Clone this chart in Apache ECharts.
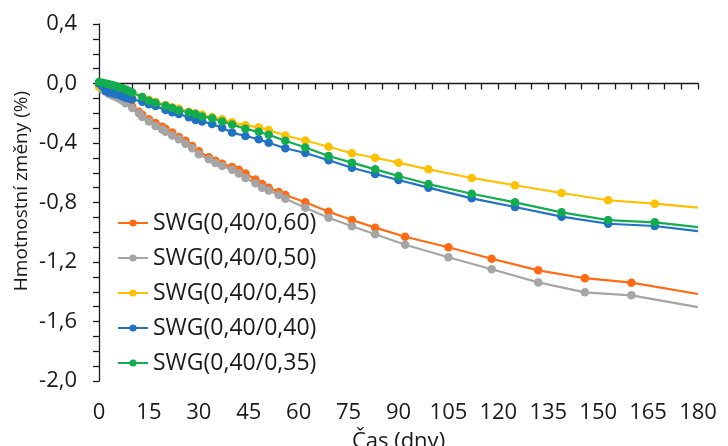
<!DOCTYPE html>
<html>
<head>
<meta charset="utf-8">
<script src="https://cdn.jsdelivr.net/npm/echarts@6/dist/echarts.min.js"></script>
<style>
  html, body { margin: 0; padding: 0; background: #fff; }
  #chart { width: 728px; height: 446px; }
</style>
</head>
<body>
<div id="chart"></div>
<script>
// Test days (mixes 0,40/0,60 and 0,40/0,50)
const daysA = [0, 1, 2, 3, 4, 5, 6, 7, 8, 10, 12, 13, 15, 17, 19, 20, 22, 24, 26, 28, 30, 33, 35, 37, 40, 42, 44, 47, 49, 51, 54, 56, 62, 69, 76, 83, 92, 105, 118, 132, 146, 160, 180];
// Test days (mixes 0,40/0,45, 0,40/0,40 and 0,40/0,35)
const daysB = [0, 1, 2, 3, 4, 5, 6, 7, 8, 9, 10, 13, 15, 17, 20, 22, 24, 27, 29, 31, 34, 37, 40, 44, 48, 51, 56, 62, 69, 76, 83, 90, 99, 112, 125, 139, 153, 167, 180];

// Mass change (%)
const swg060 = [-0.01, -0.03, -0.045, -0.06, -0.07, -0.08, -0.09, -0.105, -0.12, -0.155, -0.19, -0.21, -0.24, -0.265, -0.29, -0.305, -0.33, -0.36, -0.385, -0.42, -0.455, -0.495, -0.52, -0.54, -0.562, -0.58, -0.605, -0.645, -0.675, -0.70, -0.73, -0.75, -0.798, -0.862, -0.918, -0.969, -1.03, -1.101, -1.178, -1.256, -1.309, -1.339, -1.415];
const swg050 = [-0.02, -0.04, -0.055, -0.07, -0.08, -0.09, -0.10, -0.115, -0.133, -0.165, -0.20, -0.225, -0.255, -0.285, -0.31, -0.324, -0.35, -0.375, -0.405, -0.435, -0.475, -0.51, -0.535, -0.555, -0.58, -0.605, -0.635, -0.67, -0.70, -0.72, -0.75, -0.775, -0.835, -0.902, -0.96, -1.014, -1.084, -1.168, -1.249, -1.337, -1.404, -1.424, -1.503];
const swg045 = [-0.02, -0.025, -0.03, -0.035, -0.04, -0.045, -0.05, -0.055, -0.06, -0.065, -0.07, -0.09, -0.11, -0.125, -0.145, -0.16, -0.17, -0.19, -0.20, -0.21, -0.225, -0.241, -0.261, -0.28, -0.295, -0.313, -0.35, -0.383, -0.425, -0.469, -0.499, -0.532, -0.577, -0.635, -0.684, -0.736, -0.785, -0.808, -0.835];
const swg040 = [0.0, -0.02, -0.05, -0.06, -0.065, -0.07, -0.075, -0.085, -0.095, -0.10, -0.106, -0.122, -0.139, -0.151, -0.178, -0.193, -0.205, -0.227, -0.245, -0.255, -0.272, -0.297, -0.33, -0.353, -0.375, -0.398, -0.435, -0.467, -0.516, -0.566, -0.608, -0.649, -0.70, -0.772, -0.83, -0.895, -0.943, -0.958, -0.992];
const swg035 = [0.01, 0.005, 0.0, -0.005, -0.01, -0.017, -0.025, -0.032, -0.04, -0.05, -0.06, -0.09, -0.116, -0.129, -0.15, -0.165, -0.18, -0.195, -0.205, -0.222, -0.234, -0.255, -0.275, -0.305, -0.325, -0.345, -0.385, -0.43, -0.487, -0.532, -0.577, -0.622, -0.676, -0.741, -0.799, -0.866, -0.918, -0.933, -0.965];

const seriesNames = ['SWG(0,40/0,60)', 'SWG(0,40/0,50)', 'SWG(0,40/0,45)', 'SWG(0,40/0,40)', 'SWG(0,40/0,35)'];
const seriesColors = ['#FF6A13', '#A5A5A5', '#FFC000', '#1F72C4', '#12AD4E'];

const xTicks = [0, 15, 30, 45, 60, 75, 90, 105, 120, 135, 150, 165, 180];
const yTicks = [-2.0, -1.6, -1.2, -0.8, -0.4, 0.0, 0.4];

const fontFamily = '"Open Sans", "DejaVu Sans", sans-serif';

function pairs(days, vals) {
  return days.map((d, i) => {
    const item = { value: [d, vals[i]] };
    if (i === days.length - 1) item.symbol = 'none';
    return item;
  });
}

const dataSets = [
  pairs(daysA, swg060),
  pairs(daysA, swg050),
  pairs(daysB, swg045),
  pairs(daysB, swg040),
  pairs(daysB, swg035)
];

const chart = echarts.init(document.getElementById('chart'), null, { renderer: 'canvas' });

chart.setOption({
  animation: false,
  backgroundColor: '#ffffff',
  grid: { left: 99, right: 30, top: 24, bottom: 65, containLabel: false, outerBoundsMode: 'none' },
  xAxis: {
    type: 'value',
    min: xTicks[0],
    max: xTicks[xTicks.length - 1],
    interval: 15,
    name: 'Čas (dny)',
    nameLocation: 'middle',
    nameGap: 50,
    nameTextStyle: { fontFamily, fontSize: 22, color: '#1a1a1a' },
    axisLine: { show: true, lineStyle: { color: '#1a1a1a', width: 1.3 } },
    axisTick: { show: true, length: 6, lineStyle: { color: '#1a1a1a', width: 1.3 } },
    minorTick: { show: true, splitNumber: 3, length: 6, lineStyle: { color: '#1a1a1a', width: 1.3 } },
    splitLine: { show: false },
    axisLabel: { fontFamily, fontSize: 22, color: '#1a1a1a', margin: 21 }
  },
  yAxis: {
    type: 'value',
    min: yTicks[0],
    max: yTicks[yTicks.length - 1],
    interval: 0.4,
    axisLine: { show: true, lineStyle: { color: '#1a1a1a', width: 1.3 } },
    axisTick: { show: true, length: 6, lineStyle: { color: '#1a1a1a', width: 1.3 } },
    minorTick: { show: true, splitNumber: 4, length: 6, lineStyle: { color: '#1a1a1a', width: 1.3 } },
    splitLine: { show: false },
    axisLabel: {
      fontFamily, fontSize: 22, color: '#1a1a1a', margin: 22,
      formatter: v => v.toFixed(1).replace('.', ',')
    }
  },
  legend: {
    orient: 'vertical',
    left: 117,
    top: 211,
    padding: 0,
    itemWidth: 30,
    itemHeight: 9,
    itemGap: 11,
    textStyle: { fontFamily, fontSize: 23, color: '#1a1a1a', lineHeight: 24 },
    data: seriesNames
  },
  graphic: [{
    type: 'text',
    x: 22,
    y: 191,
    rotation: Math.PI / 2,
    style: {
      text: 'Hmotnostní změny (%)',
      font: '19px "Open Sans", sans-serif',
      fill: '#1a1a1a',
      align: 'center',
      verticalAlign: 'middle'
    }
  }],
  series: seriesNames.map((name, i) => ({
    name,
    type: 'line',
    data: dataSets[i],
    color: seriesColors[i],
    symbol: 'circle',
    symbolSize: 8.5,
    showAllSymbol: true,
    lineStyle: { width: 2.2, color: seriesColors[i] },
    itemStyle: { color: seriesColors[i] }
  }))
});
</script>
</body>
</html>
